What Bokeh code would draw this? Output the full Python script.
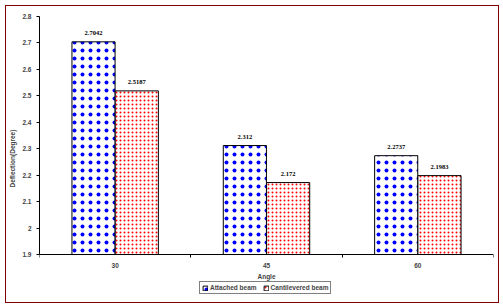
from bokeh.plotting import figure
from bokeh.models import (ColumnDataSource, FixedTicker, Legend, LegendItem,
                          LabelSet)
from bokeh.embed import file_html
from bokeh.resources import INLINE

categories = ["30", "45", "60"]
attached = [2.7042, 2.312, 2.2737]
cantilevered = [2.5187, 2.172, 2.1983]
attached_labels = ["2.7042", "2.312", "2.2737"]
cantilevered_labels = ["2.5187", "2.172", "2.1983"]
series_names = ["Attached beam", "Cantilevered beam"]
y_ticks = [1.9, 2.0, 2.1, 2.2, 2.3, 2.4, 2.5, 2.6, 2.7, 2.8]

FONT = "Liberation Sans"
FS = "6.5px"

n = len(categories)
centers = [i + 0.5 for i in range(n)]
off = 0.143
bw = 0.285
y_min, y_max = 1.9, 2.8
# extra room below the value axis for the category labels and legend
y_start = y_min - (y_max - y_min) * 46 / 238

src_a = ColumnDataSource(dict(x=[c - off for c in centers], top=attached,
                              lab=attached_labels))
src_c = ColumnDataSource(dict(x=[c + off for c in centers], top=cantilevered,
                              lab=cantilevered_labels))

p = figure(frame_width=454, frame_height=284, output_backend="svg",
           toolbar_location=None,
           x_range=(0, n), y_range=(y_start, y_max),
           min_border_left=32, min_border_right=5, min_border_top=10,
           min_border_bottom=2, margin=(6, 6, 6, 6))
p.grid.visible = False
p.outline_line_color = None
p.background_fill_color = "white"
p.border_fill_color = "white"
p.styles = {"outline": "1.5px solid #800000"}

ra = p.vbar(x="x", top="top", bottom=y_min, width=bw, source=src_a,
            fill_color="white", line_color="black", line_width=1,
            hatch_pattern="dot", hatch_color="#0000FF", hatch_scale=8,
            hatch_weight=5.5)
rc = p.vbar(x="x", top="top", bottom=y_min, width=bw, source=src_c,
            fill_color="white", line_color="black", line_width=1,
            hatch_pattern="dot", hatch_color="#FF0000", hatch_scale=4,
            hatch_weight=2.6)

for s in (src_a, src_c):
    p.add_layout(LabelSet(x="x", y="top", text="lab", source=s,
                          text_align="center", text_baseline="bottom",
                          y_offset=7, text_font=FONT, text_font_style="bold",
                          text_font_size=FS, text_color="black"))

# x axis, fixed at the bottom of the value range
p.xaxis.fixed_location = y_min
p.xaxis.ticker = FixedTicker(ticks=centers, minor_ticks=[0, 1, 2, 3])
p.xaxis.major_label_overrides = {c: lab for c, lab in zip(centers, categories)}
p.xaxis.major_tick_out = 0
p.xaxis.major_tick_in = 0
p.xaxis.minor_tick_out = 3
p.xaxis.minor_tick_in = 0
p.xaxis.minor_tick_line_color = "black"
p.xaxis.axis_label = "Angle"
p.xaxis.axis_label_standoff = 2

# y axis
p.yaxis.ticker = FixedTicker(ticks=y_ticks)
p.yaxis.bounds = (y_min, y_max)
p.yaxis.major_label_overrides = {2: "2"}
p.yaxis.major_tick_out = 3
p.yaxis.major_tick_in = 0
p.yaxis.minor_tick_line_color = None
p.yaxis.axis_label = "Deflection(Degree)"
p.yaxis.axis_label_standoff = 3

for ax in (p.xaxis, p.yaxis):
    ax.axis_line_color = "black"
    ax.axis_line_width = 1
    ax.major_tick_line_color = "black"
    ax.major_label_text_font = FONT
    ax.major_label_text_font_style = "bold"
    ax.major_label_text_font_size = FS
    ax.axis_label_text_font = FONT
    ax.axis_label_text_font_style = "bold"
    ax.axis_label_text_font_size = FS
    ax.major_label_standoff = 5

legend = Legend(items=[LegendItem(label=series_names[0], renderers=[ra]),
                       LegendItem(label=series_names[1], renderers=[rc])],
                orientation="horizontal", location=(160, 6),
                label_text_font=FONT, label_text_font_style="bold",
                label_text_font_size=FS, glyph_width=6, glyph_height=6,
                label_standoff=2, spacing=6, padding=2, margin=0,
                border_line_color="black",
                border_line_width=1, background_fill_alpha=1)
p.add_layout(legend, "center")

open("out.html", "w").write(file_html(p, INLINE))
